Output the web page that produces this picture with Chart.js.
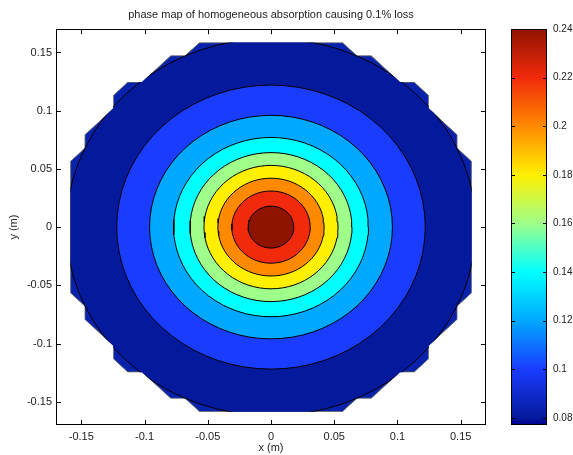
<!DOCTYPE html>
<html>
<head>
<meta charset="utf-8">
<script src="https://cdn.jsdelivr.net/npm/chart.js@4.4.0/dist/chart.umd.min.js"></script>
<style>
  html, body { margin: 0; padding: 0; background: #fff; }
  #wrap { position: relative; width: 573px; height: 455px; }
  #wrap canvas { position: absolute; top: 0; }
  #map { left: 0; }
  #bar { left: 500px; }
</style>
</head>
<body>
<div id="wrap">
  <canvas id="map" width="573" height="455"></canvas>
  <canvas id="bar" width="73" height="455"></canvas>
</div>
<script>
// contour levels and the radius (m) where each one sits
const levels = [0.24, 0.22, 0.20, 0.18, 0.16, 0.14, 0.12, 0.10, 0.08];
const levelRadius = [0.018, 0.031, 0.042, 0.053, 0.064, 0.077, 0.096, 0.122, 0.162];
const levelColors = ['#8f1400', '#f22a0c', '#ff8a00', '#ffef00', '#9eff8a', '#00ffff', '#00a8ff', '#1a3cff', '#05199c'];
const outsideColor = '#0822ad';

// aperture edge, first quadrant, in grid steps of 0.17/15 m
const gridStep = 0.17 / 15;
const edgeI = [5, 6, 7, 9, 10, 11, 11, 13, 13, 14];
const edgeJ = [14, 13, 13, 11, 11, 10, 9, 7, 6, 5];

const xTicks = [-0.15, -0.1, -0.05, 0, 0.05, 0.1, 0.15];
const yTicks = [-0.15, -0.1, -0.05, 0, 0.05, 0.1, 0.15];
const cbTicks = [0.08, 0.1, 0.12, 0.14, 0.16, 0.18, 0.2, 0.22, 0.24];
const cbRange = [0.0771, 0.24];

const textFont = { family: 'Liberation Sans', size: 11, weight: 'normal' };
const cbFont = { family: 'Liberation Sans', size: 10, weight: 'normal' };
const textColor = '#222';

function fmt(v) {
    return String(Math.round(v * 100) / 100);
}

// full aperture outline from the quadrant, mirrored round
function buildAperture() {
    const q = edgeI.map((i, k) => ({ x: i * gridStep, y: edgeJ[k] * gridStep }));
    const pts = [];
    q.forEach(p => pts.push({ x: p.x, y: p.y }));
    q.slice().reverse().forEach(p => pts.push({ x: p.x, y: -p.y }));
    q.forEach(p => pts.push({ x: -p.x, y: -p.y }));
    q.slice().reverse().forEach(p => pts.push({ x: -p.x, y: p.y }));
    pts.push({ x: pts[0].x, y: pts[0].y });
    return pts;
}
const aperture = buildAperture();

function ring(r) {
    const pts = [];
    const n = 72;
    for (let k = 0; k <= n; k++) {
        const t = k / n * 2 * Math.PI;
        pts.push({ x: r * Math.cos(t), y: r * Math.sin(t) });
    }
    return pts;
}

// MATLAB style: closed box, ticks pointing inward on every side
const boxTicks = {
    id: 'boxTicks',
    afterDraw(chart, args, opts) {
        const { ctx, chartArea: a } = chart;
        const len = opts.len || 5;
        ctx.save();
        ctx.strokeStyle = '#000';
        ctx.lineWidth = 1;
        ctx.beginPath();
        (opts.x || []).forEach(v => {
            const px = Math.round(chart.scales.x.getPixelForValue(v)) + 0.5;
            ctx.moveTo(px, a.bottom); ctx.lineTo(px, a.bottom - len);
            ctx.moveTo(px, a.top); ctx.lineTo(px, a.top + len);
        });
        (opts.y || []).forEach(v => {
            const py = Math.round(chart.scales.y.getPixelForValue(v)) + 0.5;
            ctx.moveTo(a.left, py); ctx.lineTo(a.left + len, py);
            ctx.moveTo(a.right, py); ctx.lineTo(a.right - len, py);
        });
        ctx.stroke();
        ctx.strokeRect(Math.round(a.left) + 0.5, Math.round(a.top) + 0.5,
            Math.round(a.right - a.left) - 1, Math.round(a.bottom - a.top) - 1);
        ctx.restore();
    }
};

// keep the contour fills inside the aperture
const apertureClip = {
    id: 'apertureClip',
    beforeDatasetsDraw(chart) {
        const { ctx, scales: { x, y } } = chart;
        ctx.save();
        ctx.beginPath();
        aperture.forEach((p, k) => {
            const px = x.getPixelForValue(p.x), py = y.getPixelForValue(p.y);
            if (k) ctx.lineTo(px, py); else ctx.moveTo(px, py);
        });
        ctx.closePath();
        ctx.clip();
    },
    afterDatasetsDraw(chart) {
        chart.ctx.restore();
    }
};

const datasets = levels.map((lv, k) => ({
    label: String(lv),
    data: ring(levelRadius[k]),
    showLine: true,
    fill: 'shape',
    backgroundColor: levelColors[k],
    borderColor: '#000',
    borderWidth: 1,
    pointRadius: 0,
    pointHoverRadius: 0
}));
datasets.push({
    label: 'aperture',
    data: aperture,
    showLine: true,
    fill: 'shape',
    backgroundColor: outsideColor,
    borderColor: '#666',
    borderWidth: 1.5,
    pointRadius: 0,
    pointHoverRadius: 0
});

new Chart(document.getElementById('map'), {
    type: 'scatter',
    data: { datasets: datasets },
    options: {
        responsive: false,
        animation: false,
        layout: { padding: { left: 0, right: 87, top: 0, bottom: 0 } },
        plugins: {
            legend: { display: false },
            tooltip: { enabled: false },
            title: {
                display: true,
                fullSize: false,
                text: 'phase map of homogeneous absorption causing 0.1% loss',
                color: textColor,
                font: textFont,
                padding: { top: 8, bottom: 8 }
            },
            boxTicks: { x: xTicks, y: yTicks, len: 5 }
        },
        scales: {
            x: {
                type: 'linear',
                min: -0.17,
                max: 0.17,
                grid: { display: false, drawTicks: false },
                border: { display: false },
                afterBuildTicks: s => { s.ticks = xTicks.map(v => ({ value: v })); },
                afterFit: s => { s.height = 30; },
                ticks: { padding: 5, color: textColor, font: textFont, callback: v => fmt(v) },
                title: { display: true, text: 'x (m)', color: textColor, font: textFont, padding: { top: 0, bottom: 0 } }
            },
            y: {
                type: 'linear',
                min: -0.17,
                max: 0.17,
                grid: { display: false, drawTicks: false },
                border: { display: false },
                afterBuildTicks: s => { s.ticks = yTicks.map(v => ({ value: v })); },
                afterFit: s => { s.width = 56; },
                ticks: { padding: 4, color: textColor, font: textFont, callback: v => fmt(v) },
                title: { display: true, text: 'y (m)', color: textColor, font: textFont, padding: { top: 7, bottom: 0 } }
            }
        }
    },
    plugins: [apertureClip, boxTicks]
});

function cbGradient(chart) {
    const { ctx, scales } = chart;
    const y = scales.y;
    if (!y || !chart.chartArea) return levelColors[levelColors.length - 1];
    const y0 = y.getPixelForValue(cbRange[0]);
    const y1 = y.getPixelForValue(cbRange[1]);
    const g = ctx.createLinearGradient(0, y0, 0, y1);
    g.addColorStop(0, '#00008c');
    levels.slice().reverse().forEach(lv => {
        const k = levels.indexOf(lv);
        g.addColorStop((lv - cbRange[0]) / (cbRange[1] - cbRange[0]), levelColors[k]);
    });
    return g;
}

new Chart(document.getElementById('bar'), {
    type: 'bar',
    data: {
        labels: [''],
        datasets: [{
            data: [cbRange],
            backgroundColor: c => cbGradient(c.chart),
            borderWidth: 0,
            barPercentage: 1,
            categoryPercentage: 1
        }]
    },
    options: {
        responsive: false,
        animation: false,
        layout: { padding: { left: 11, right: 0, top: 29, bottom: 30 } },
        plugins: {
            legend: { display: false },
            tooltip: { enabled: false },
            boxTicks: { y: cbTicks, len: 4 }
        },
        scales: {
            x: { display: false },
            y: {
                position: 'right',
                min: cbRange[0],
                max: cbRange[1],
                grid: { display: false, drawTicks: false },
                border: { display: false },
                afterBuildTicks: s => { s.ticks = cbTicks.map(v => ({ value: v })); },
                afterFit: s => { s.width = 26; },
                ticks: { padding: 6, color: textColor, font: cbFont, callback: v => fmt(v) }
            }
        }
    },
    plugins: [boxTicks]
});
</script>
</body>
</html>
